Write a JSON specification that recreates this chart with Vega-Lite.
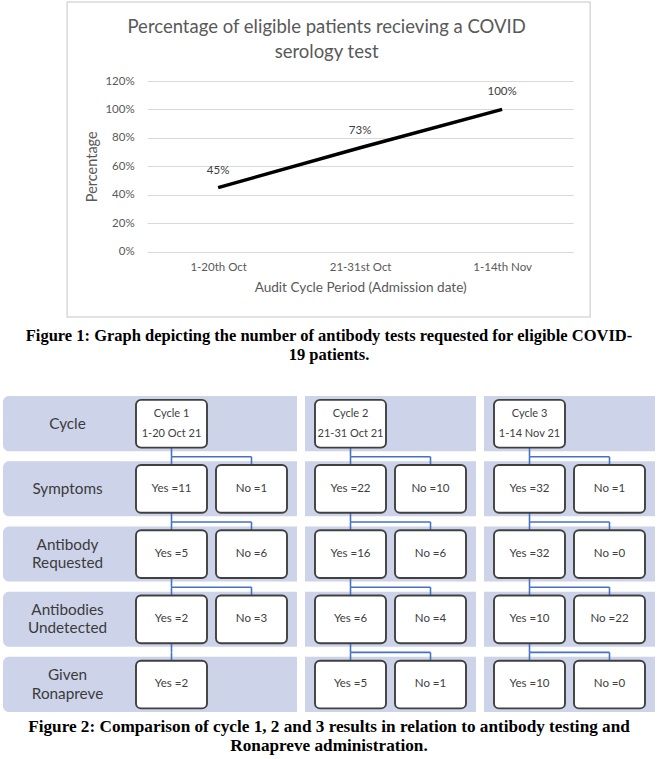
{
  "$schema": "https://vega.github.io/schema/vega-lite/v6.json",
  "padding": {"left": 3, "top": 1, "right": 2, "bottom": 2},
  "background": "white",
  "config": {"font": "Lato", "view": {"stroke": null}},
  "resolve": {"scale": {"x": "independent", "y": "independent"}},
  "center": true,
  "spacing": 32,
  "vconcat": [
    {
      "center": true,
      "spacing": 8,
      "vconcat": [
        {
          "width": 523,
          "height": 315,
          "view": {"stroke": "#d9d9d9", "strokeWidth": 1.5},
          "title": {
            "text": ["Percentage of eligible patients recieving a COVID", "serology test"],
            "orient": "top", "anchor": "middle", "frame": "group", "offset": -59.5, "dx": -2,
            "fontSize": 18.5, "fontWeight": "normal", "color": "#595959", "lineHeight": 25.5
          },
          "data": {
            "values": [
              {"period": "1-20th Oct", "pct": 45},
              {"period": "21-31st Oct", "pct": 73},
              {"period": "1-14th Nov", "pct": 100}
            ]
          },
          "transform": [{"calculate": "datum.pct + '%'", "as": "label"}],
          "encoding": {
            "x": {
              "field": "period", "type": "nominal", "sort": null,
              "scale": {"type": "point", "range": [80, 506], "padding": 0.5},
              "axis": {
                "title": "Audit Cycle Period (Admission date)", "offset": -65.5, "domain": false,
                "ticks": false, "grid": false, "labelAngle": 0, "labelPadding": 10,
                "labelFontSize": 11.5, "labelColor": "#595959", "titleFontSize": 13.6,
                "titleFontWeight": "normal", "titleColor": "#595959", "titlePadding": 7
              }
            },
            "y": {
              "field": "pct", "type": "quantitative",
              "scale": {"domain": [0, 120], "range": [249.5, 79], "nice": false},
              "axis": {
                "values": [0, 20, 40, 60, 80, 100, 120], "labelExpr": "datum.value + '%'",
                "grid": true, "gridColor": "#d9d9d9", "gridWidth": 1, "domain": false, "ticks": false,
                "labelPadding": 13, "labelFontSize": 11.5, "labelColor": "#595959", "offset": -80,
                "title": "Percentage", "titleFontSize": 14.5, "titleFontWeight": "normal",
                "titleColor": "#595959", "titlePadding": 5
              }
            }
          },
          "layer": [
            {"mark": {"type": "line", "color": "black", "strokeWidth": 3.5}},
            {
              "mark": {"type": "text", "dy": -17, "fontSize": 11.5, "color": "#404040"},
              "encoding": {"text": {"field": "label"}}
            }
          ]
        },
        {
          "width": 652,
          "height": 38,
          "data": {
            "values": [
              {"line": 1, "caption": "Figure 1: Graph depicting the number of antibody tests requested for eligible COVID-"},
              {"line": 2, "caption": "19 patients."}
            ]
          },
          "mark": {"type": "text", "font": "Liberation Serif", "fontSize": 16.5, "fontWeight": "bold", "color": "black"},
          "encoding": {
            "y": {"field": "line", "type": "ordinal", "axis": null, "scale": {"paddingInner": 0, "paddingOuter": 0}},
            "text": {"field": "caption"}
          }
        }
      ]
    },
    {
      "center": true,
      "spacing": 5,
      "vconcat": [
        {
          "spacing": 0,
          "hconcat": [
            {
              "width": 123,
              "height": 316,
              "data": {
                "values": [
                  {"stage": "Cycle"},
                  {"stage": "Symptoms"},
                  {"stage": "Antibody Requested"},
                  {"stage": "Antibodies Undetected"},
                  {"stage": "Given Ronapreve"}
                ]
              },
              "transform": [{"calculate": "split(datum.stage, ' ')", "as": "lines"}],
              "encoding": {
                "y": {
                  "field": "stage", "type": "nominal",
                  "scale": {"domain": ["Cycle", "Symptoms", "Antibody Requested", "Antibodies Undetected", "Given Ronapreve"], "paddingInner": 0.154, "paddingOuter": 0},
                  "axis": null
                }
              },
              "layer": [
                {"mark": {"type": "rect", "color": "#cdd4ea", "cornerRadiusTopLeft": 6, "cornerRadiusBottomLeft": 6}},
                {
                  "transform": [{"filter": "length(datum.lines) == 1"}],
                  "mark": {"type": "text", "fontSize": 15.3, "color": "#3b3b3b", "dx": 3},
                  "encoding": {"text": {"field": "lines"}}
                },
                {
                  "transform": [{"filter": "length(datum.lines) == 2"}],
                  "mark": {"type": "text", "fontSize": 15.3, "color": "#3b3b3b", "lineHeight": 18.5, "dx": 3, "dy": -9.25},
                  "encoding": {"text": {"field": "lines"}}
                }
              ]
            },
            {
              "width": 529,
              "height": 316,
              "data": {
                "values": [
                  {"cycle": "Cycle 1", "stage": "Cycle", "answer": "Yes", "period": "1-20 Oct 21"},
                  {"cycle": "Cycle 1", "stage": "Symptoms", "answer": "Yes", "n": 11},
                  {"cycle": "Cycle 1", "stage": "Symptoms", "answer": "No", "n": 1},
                  {"cycle": "Cycle 1", "stage": "Antibody Requested", "answer": "Yes", "n": 5},
                  {"cycle": "Cycle 1", "stage": "Antibody Requested", "answer": "No", "n": 6},
                  {"cycle": "Cycle 1", "stage": "Antibodies Undetected", "answer": "Yes", "n": 2},
                  {"cycle": "Cycle 1", "stage": "Antibodies Undetected", "answer": "No", "n": 3},
                  {"cycle": "Cycle 1", "stage": "Given Ronapreve", "answer": "Yes", "n": 2},
                  {"cycle": "Cycle 2", "stage": "Cycle", "answer": "Yes", "period": "21-31 Oct 21"},
                  {"cycle": "Cycle 2", "stage": "Symptoms", "answer": "Yes", "n": 22},
                  {"cycle": "Cycle 2", "stage": "Symptoms", "answer": "No", "n": 10},
                  {"cycle": "Cycle 2", "stage": "Antibody Requested", "answer": "Yes", "n": 16},
                  {"cycle": "Cycle 2", "stage": "Antibody Requested", "answer": "No", "n": 6},
                  {"cycle": "Cycle 2", "stage": "Antibodies Undetected", "answer": "Yes", "n": 6},
                  {"cycle": "Cycle 2", "stage": "Antibodies Undetected", "answer": "No", "n": 4},
                  {"cycle": "Cycle 2", "stage": "Given Ronapreve", "answer": "Yes", "n": 5},
                  {"cycle": "Cycle 2", "stage": "Given Ronapreve", "answer": "No", "n": 1},
                  {"cycle": "Cycle 3", "stage": "Cycle", "answer": "Yes", "period": "1-14 Nov 21"},
                  {"cycle": "Cycle 3", "stage": "Symptoms", "answer": "Yes", "n": 32},
                  {"cycle": "Cycle 3", "stage": "Symptoms", "answer": "No", "n": 1},
                  {"cycle": "Cycle 3", "stage": "Antibody Requested", "answer": "Yes", "n": 32},
                  {"cycle": "Cycle 3", "stage": "Antibody Requested", "answer": "No", "n": 0},
                  {"cycle": "Cycle 3", "stage": "Antibodies Undetected", "answer": "Yes", "n": 10},
                  {"cycle": "Cycle 3", "stage": "Antibodies Undetected", "answer": "No", "n": 22},
                  {"cycle": "Cycle 3", "stage": "Given Ronapreve", "answer": "Yes", "n": 10},
                  {"cycle": "Cycle 3", "stage": "Given Ronapreve", "answer": "No", "n": 0}
                ]
              },
              "transform": [
                {"calculate": "datum.stage == 'Cycle' ? [datum.cycle, datum.period] : datum.answer + ' =' + datum.n", "as": "text"}
              ],
              "encoding": {
                "x": {
                  "field": "cycle", "type": "nominal",
                  "scale": {"domain": ["Cycle 1", "Cycle 2", "Cycle 3"], "paddingInner": 0.0447, "paddingOuter": 0},
                  "axis": null
                },
                "y": {
                  "field": "stage", "type": "nominal",
                  "scale": {"domain": ["Cycle", "Symptoms", "Antibody Requested", "Antibodies Undetected", "Given Ronapreve"], "paddingInner": 0.154, "paddingOuter": 0},
                  "axis": null
                }
              },
              "layer": [
                {
                  "transform": [{"filter": "datum.answer == 'Yes'"}],
                  "mark": {"type": "rect", "color": "#cdd4ea"}
                },
                {
                  "transform": [{"filter": "datum.stage != 'Cycle'"}],
                  "mark": {"type": "rule", "color": "#4472c4", "strokeWidth": 1.6},
                  "encoding": {
                    "xOffset": {"field": "answer", "type": "nominal", "scale": {"domain": ["Yes", "No"], "paddingInner": 0.1125, "paddingOuter": 0.125}},
                    "y": {"field": "stage", "type": "nominal", "bandPosition": -0.08, "scale": {"domain": ["Cycle", "Symptoms", "Antibody Requested", "Antibodies Undetected", "Given Ronapreve"], "paddingInner": 0.154, "paddingOuter": 0}, "axis": null},
                    "y2": {"field": "stage", "bandPosition": 0.5}
                  }
                },
                {
                  "transform": [{"filter": "datum.answer == 'Yes' && datum.stage != 'Given Ronapreve'"}],
                  "mark": {"type": "rule", "color": "#4472c4", "strokeWidth": 1.6},
                  "encoding": {
                    "xOffset": {"field": "answer", "type": "nominal", "scale": {"domain": ["Yes", "No"], "paddingInner": 0.1125, "paddingOuter": 0.125}},
                    "y": {"field": "stage", "type": "nominal", "bandPosition": 0.5, "scale": {"domain": ["Cycle", "Symptoms", "Antibody Requested", "Antibodies Undetected", "Given Ronapreve"], "paddingInner": 0.154, "paddingOuter": 0}, "axis": null},
                    "y2": {"field": "stage", "bandPosition": 1.1}
                  }
                },
                {
                  "transform": [{"filter": "datum.answer == 'No'"}],
                  "mark": {"type": "rule", "color": "#4472c4", "strokeWidth": 1.6},
                  "encoding": {
                    "x": {"field": "cycle", "type": "nominal", "bandPosition": 0.266, "scale": {"domain": ["Cycle 1", "Cycle 2", "Cycle 3"], "paddingInner": 0.0447, "paddingOuter": 0}, "axis": null},
                    "x2": {"field": "cycle", "bandPosition": 0.734},
                    "y": {"field": "stage", "type": "nominal", "bandPosition": -0.08, "scale": {"domain": ["Cycle", "Symptoms", "Antibody Requested", "Antibodies Undetected", "Given Ronapreve"], "paddingInner": 0.154, "paddingOuter": 0}, "axis": null}
                  }
                },
                {
                  "mark": {"type": "rect", "fill": "white", "stroke": "#404040", "strokeWidth": 1.9, "cornerRadius": 5},
                  "encoding": {
                    "xOffset": {"field": "answer", "type": "nominal", "scale": {"domain": ["Yes", "No"], "paddingInner": 0.1125, "paddingOuter": 0.125}},
                    "y": {"field": "stage", "type": "nominal", "bandPosition": 0.07, "scale": {"domain": ["Cycle", "Symptoms", "Antibody Requested", "Antibodies Undetected", "Given Ronapreve"], "paddingInner": 0.154, "paddingOuter": 0}, "axis": null},
                    "y2": {"field": "stage", "bandPosition": 0.935}
                  }
                },
                {
                  "transform": [{"filter": "datum.stage != 'Cycle'"}],
                  "mark": {"type": "text", "fontSize": 11.5, "color": "#404040"},
                  "encoding": {
                    "xOffset": {"field": "answer", "type": "nominal", "scale": {"domain": ["Yes", "No"], "paddingInner": 0.1125, "paddingOuter": 0.125}},
                    "text": {"field": "text"}
                  }
                },
                {
                  "transform": [{"filter": "datum.stage == 'Cycle'"}],
                  "mark": {"type": "text", "fontSize": 11, "color": "#404040", "lineHeight": 20, "dy": -10},
                  "encoding": {
                    "xOffset": {"field": "answer", "type": "nominal", "scale": {"domain": ["Yes", "No"], "paddingInner": 0.1125, "paddingOuter": 0.125}},
                    "text": {"field": "text"}
                  }
                }
              ]
            }
          ]
        },
        {
          "width": 652,
          "height": 38,
          "data": {
            "values": [
              {"line": 1, "caption": "Figure 2: Comparison of cycle 1, 2 and 3 results in relation to antibody testing and"},
              {"line": 2, "caption": "Ronapreve administration."}
            ]
          },
          "mark": {"type": "text", "font": "Liberation Serif", "fontSize": 17.2, "fontWeight": "bold", "color": "black"},
          "encoding": {
            "y": {"field": "line", "type": "ordinal", "axis": null, "scale": {"paddingInner": 0, "paddingOuter": 0}},
            "text": {"field": "caption"}
          }
        }
      ]
    }
  ]
}
